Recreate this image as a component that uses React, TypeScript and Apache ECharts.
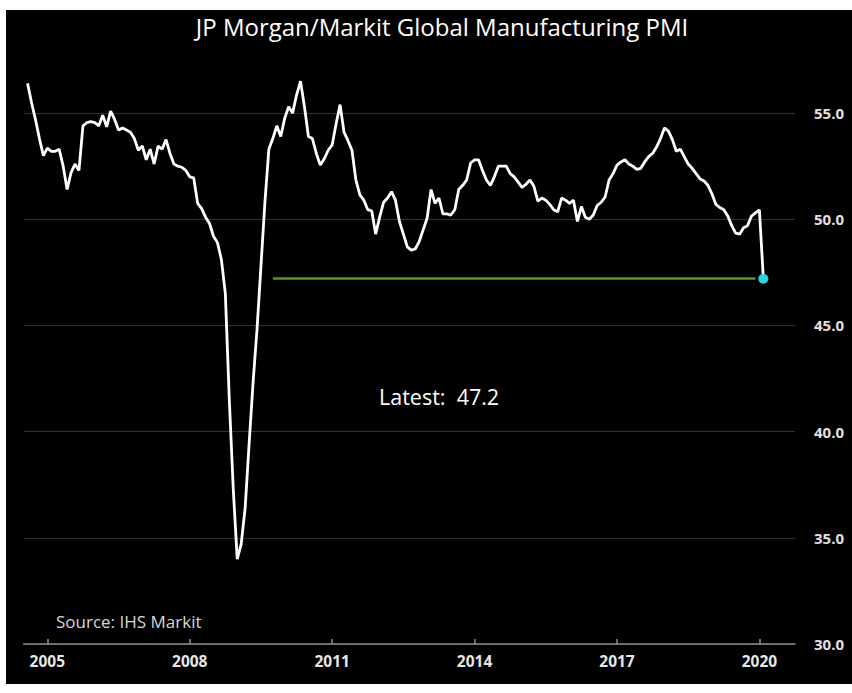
import React, { useEffect, useRef } from "react";
import * as echarts from "echarts";

// Monthly JP Morgan/Markit Global Manufacturing PMI, Aug 2004 .. Feb 2020
const pmi2004 = [56.4, 55.5, 54.7, 53.8, 53.0]; // Aug-Dec
const pmi2005 = [53.35, 53.2, 53.2, 53.3, 52.5, 51.4, 52.2, 52.6, 52.3, 54.4, 54.55, 54.6];
const pmi2006 = [54.55, 54.4, 54.9, 54.35, 55.1, 54.7, 54.2, 54.3, 54.2, 54.1, 53.8, 53.25];
const pmi2007 = [53.45, 52.8, 53.3, 52.6, 53.45, 53.3, 53.75, 53.1, 52.6, 52.5, 52.45, 52.3];
const pmi2008 = [52.0, 51.95, 50.75, 50.5, 50.1, 49.8, 49.2, 48.9, 48.1, 46.5, 41.5, 37.3];
const pmi2009 = [34.0, 34.7, 36.4, 39.4, 42.3, 44.8, 47.8, 50.8, 53.3, 53.8, 54.4, 53.9];
const pmi2010 = [54.75, 55.3, 55.0, 55.85, 56.5, 55.3, 53.9, 53.8, 53.1, 52.55, 52.85, 53.25];
const pmi2011 = [53.5, 54.5, 55.4, 54.1, 53.7, 53.25, 51.85, 51.15, 50.9, 50.45, 50.4, 49.3];
const pmi2012 = [50.1, 50.8, 51.0, 51.3, 50.9, 49.9, 49.3, 48.7, 48.55, 48.6, 48.95, 49.5];
const pmi2013 = [50.05, 51.4, 50.75, 51.0, 50.25, 50.25, 50.2, 50.45, 51.4, 51.6, 51.85, 52.65];
const pmi2014 = [52.8, 52.8, 52.3, 51.85, 51.6, 52.0, 52.5, 52.5, 52.5, 52.15, 52.0, 51.75];
const pmi2015 = [51.5, 51.65, 51.85, 51.55, 50.85, 51.0, 50.9, 50.7, 50.45, 50.35, 51.0, 50.9];
const pmi2016 = [50.75, 50.9, 49.9, 50.6, 50.1, 50.0, 50.2, 50.65, 50.8, 51.05, 51.85, 52.15];
const pmi2017 = [52.55, 52.7, 52.8, 52.6, 52.5, 52.35, 52.4, 52.7, 52.95, 53.1, 53.4, 53.8];
const pmi2018 = [54.3, 54.15, 53.75, 53.2, 53.3, 52.95, 52.6, 52.4, 52.15, 51.9, 51.8, 51.6];
const pmi2019 = [51.2, 50.7, 50.55, 50.45, 50.15, 49.7, 49.35, 49.3, 49.6, 49.7, 50.15, 50.3];
const pmi2020 = [50.45, 47.2]; // Jan-Feb

const pmiValues = [
  ...pmi2004, ...pmi2005, ...pmi2006, ...pmi2007, ...pmi2008, ...pmi2009,
  ...pmi2010, ...pmi2011, ...pmi2012, ...pmi2013, ...pmi2014, ...pmi2015,
  ...pmi2016, ...pmi2017, ...pmi2018, ...pmi2019, ...pmi2020,
];

// Axis categories: months Jul 2004 .. Oct 2020 (padding months carry no data)
const axisStart = { year: 2004, month: 7 };
const axisEnd = { year: 2020, month: 10 };
const dataStart = "2004-08";
const yearLabels = [2005, 2008, 2011, 2014, 2017, 2020];
const yTicks = [30, 35, 40, 45, 50, 55];

const latestLabel = "2020-02";
const latestValue = 47.2;
const refLineStart = "2009-10";
const refLineEnd = "2019-12";

const titleText = "JP Morgan/Markit Global Manufacturing PMI";
const latestText = "Latest:  47.2";
const sourceText = "Source: IHS Markit";

function buildMonths(): string[] {
  const out: string[] = [];
  let y = axisStart.year;
  let m = axisStart.month;
  while (y < axisEnd.year || (y === axisEnd.year && m <= axisEnd.month)) {
    out.push(`${y}-${String(m).padStart(2, "0")}`);
    m++;
    if (m > 12) {
      m = 1;
      y++;
    }
  }
  return out;
}

export default function App() {
  const ref = useRef<HTMLDivElement>(null);

  useEffect(() => {
    if (!ref.current) return;
    const chart = echarts.init(ref.current, undefined, { renderer: "svg" });
    const months = buildMonths();
    const offset = months.indexOf(dataStart);
    const seriesData: (number | null)[] = months.map((_, i) => {
      const k = i - offset;
      return k >= 0 && k < pmiValues.length ? pmiValues[k] : null;
    });
    const isYearTick = (idx: number) => {
      const c = months[idx];
      if (!c) return false;
      const [y, m] = c.split("-");
      return m === "01" && yearLabels.includes(Number(y));
    };
    const font = "'Open Sans', 'Noto Sans', sans-serif";

    chart.setOption({
      animation: false,
      backgroundColor: "#000000",
      grid: { left: 17.6, right: 57, top: 50, bottom: 40, containLabel: false },
      xAxis: {
        type: "category",
        data: months,
        boundaryGap: false,
        axisLine: { show: true, lineStyle: { color: "#8c8c8c", width: 1.5 } },
        axisTick: {
          show: true,
          inside: true,
          length: 5,
          interval: (idx: number) => isYearTick(idx),
          lineStyle: { color: "#8c8c8c", width: 1.5 },
        },
        axisLabel: {
          interval: (idx: number) => isYearTick(idx),
          formatter: (v: string) => v.split("-")[0],
          color: "#e6e6e6",
          fontFamily: font,
          fontWeight: "bold",
          fontSize: 15.5,
          margin: 9,
        },
        splitLine: { show: false },
      },
      yAxis: {
        type: "value",
        position: "right",
        min: yTicks[0],
        max: 57.5,
        interval: 5,
        axisLine: { show: false },
        axisTick: { show: false },
        axisLabel: {
          formatter: (v: number) => (yTicks.includes(v) ? v.toFixed(1) : ""),
          color: "#e0e0e0",
          fontFamily: font,
          fontWeight: "bold",
          fontSize: 15,
          margin: 19,
          align: "left",
          showMaxLabel: false,
        },
        splitLine: {
          show: true,
          showMaxLine: false,
          lineStyle: { color: "#303030", width: 1.2 },
        },
      },
      series: [
        {
          type: "line",
          data: seriesData,
          symbol: "none",
          connectNulls: false,
          lineStyle: { color: "#ffffff", width: 2.8 },
          z: 3,
          markLine: {
            silent: true,
            symbol: "none",
            label: { show: false },
            lineStyle: { color: "#4f9a2c", width: 2.5, type: "solid" },
            data: [[{ coord: [refLineStart, latestValue] }, { coord: [refLineEnd, latestValue] }]],
            z: 2,
          },
          markPoint: {
            silent: true,
            symbol: "circle",
            symbolSize: 10,
            itemStyle: { color: "#2ad4e4" },
            label: { show: false },
            data: [{ coord: [latestLabel, latestValue] }],
          },
        },
      ],
      graphic: [
        {
          type: "text",
          x: 436,
          y: 4,
          style: {
            text: titleText,
            fill: "#ffffff",
            font: `24px ${font}`,
            textAlign: "center",
            textVerticalAlign: "top",
          },
        },
        {
          type: "text",
          x: 373,
          y: 386,
          style: {
            text: latestText,
            fill: "#ffffff",
            font: `21.5px ${font}`,
            textAlign: "left",
            textVerticalAlign: "middle",
          },
        },
        {
          type: "text",
          x: 50,
          y: 611,
          style: {
            text: sourceText,
            fill: "#d6d6d6",
            font: `17px ${font}`,
            textAlign: "left",
            textVerticalAlign: "middle",
          },
        },
      ],
    });
    return () => chart.dispose();
  }, []);

  return (
    <div
      ref={ref}
      style={{ position: "absolute", left: 6, top: 10, width: 846, height: 674 }}
    />
  );
}
